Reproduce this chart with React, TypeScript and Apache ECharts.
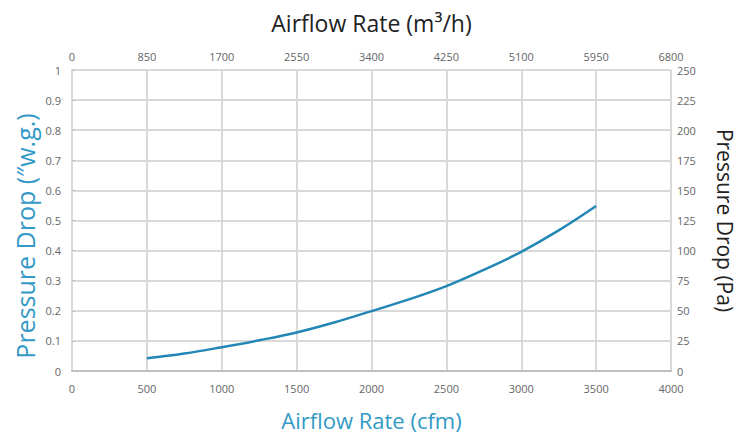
import React, { useEffect, useRef } from "react";
import * as echarts from "echarts";

const airflowCfm = [500, 750, 1000, 1250, 1500, 1750, 2000, 2250, 2500, 2750, 3000, 3250, 3500];
const pressureInWg = [0.042, 0.058, 0.079, 0.102, 0.128, 0.161, 0.199, 0.238, 0.282, 0.336, 0.396, 0.467, 0.548];

const bottomTitle = "Airflow Rate (cfm)";
const topTitle = "Airflow Rate (m³/h)";
const leftTitle = "Pressure Drop (″w.g.)";
const rightTitle = "Pressure Drop (Pa)";

const BLUE_LINE = "#2387b6";
const BLUE_TEXT = "#3399c6";
const TICK = "#666666";
const GRID = "#d9d9d9";
const FONT = "'Open Sans', 'Noto Sans', sans-serif";

export default function App() {
  const ref = useRef<HTMLDivElement>(null);
  useEffect(() => {
    if (!ref.current) return;
    const chart = echarts.init(ref.current, undefined, { renderer: "svg" });
    const tickLabel = {
      color: TICK,
      fontSize: 11,
      fontFamily: FONT,
      formatter: (v: number) => String(Math.round(v * 1000) / 1000),
    };
    chart.setOption({
      animation: false,
      backgroundColor: "#ffffff",
      grid: {
        left: 72,
        right: 75,
        top: 70,
        bottom: 65,
        containLabel: false,
        outerBoundsMode: "none",
      },
      graphic: [
        {
          type: "text",
          x: 25,
          y: 236,
          rotation: Math.PI / 2,
          style: {
            text: leftTitle,
            fill: BLUE_TEXT,
            fontSize: 25,
            fontFamily: FONT,
            align: "center",
            verticalAlign: "middle",
          },
        },
      ],
      xAxis: [
        {
          type: "value",
          position: "bottom",
          min: 0,
          max: 4000,
          interval: 500,
          name: bottomTitle,
          nameLocation: "middle",
          nameGap: 38,
          nameTextStyle: { color: BLUE_TEXT, fontSize: 22, lineHeight: 22, fontFamily: FONT },
          axisLine: { show: true, lineStyle: { color: "#bfbfbf", width: 2 } },
          axisTick: { show: false },
          axisLabel: { ...tickLabel, margin: 12 },
          splitLine: { show: true, lineStyle: { color: GRID, width: 2 } },
        },
        {
          type: "value",
          position: "top",
          min: 0,
          max: 6800,
          interval: 850,
          name: topTitle,
          nameLocation: "middle",
          nameGap: 36,
          nameTextStyle: { color: "#222222", fontSize: 23, fontFamily: FONT },
          axisLine: { show: false },
          axisTick: { show: false },
          axisLabel: { ...tickLabel, margin: 8 },
          splitLine: { show: false },
        },
      ],
      yAxis: [
        {
          type: "value",
          position: "left",
          min: 0,
          max: 1,
          interval: 0.1,
          axisLine: { show: true, lineStyle: { color: "#bfbfbf", width: 2 } },
          axisTick: { show: false },
          axisLabel: { ...tickLabel, margin: 11 },
          splitLine: { show: true, lineStyle: { color: GRID, width: 2 } },
        },
        {
          type: "value",
          position: "right",
          min: 0,
          max: 250,
          interval: 25,
          name: rightTitle,
          nameLocation: "middle",
          nameGap: 43,
          nameRotate: -90,
          nameTextStyle: { color: "#222222", fontSize: 21, fontFamily: FONT },
          axisLine: { show: true, lineStyle: { color: GRID, width: 2 } },
          axisTick: { show: true, length: 3, inside: false, lineStyle: { color: "#bfbfbf" } },
          axisLabel: { ...tickLabel, margin: 6 },
          splitLine: { show: false },
        },
      ],
      series: [
        {
          type: "line",
          xAxisIndex: 0,
          yAxisIndex: 0,
          data: airflowCfm.map((x, i) => [x, pressureInWg[i]]),
          smooth: 0.4,
          showSymbol: false,
          lineStyle: { color: BLUE_LINE, width: 2.5 },
        },
      ],
    });
    return () => chart.dispose();
  }, []);
  return (
    <div
      ref={ref}
      style={{ position: "fixed", left: 0, top: 0, width: 746, height: 436 }}
    />
  );
}
